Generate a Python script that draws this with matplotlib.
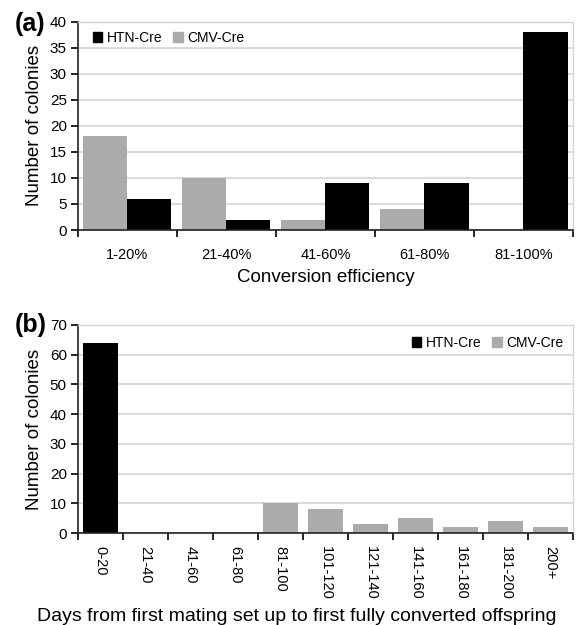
import numpy as np
import matplotlib

matplotlib.use("Agg")
import matplotlib.pyplot as plt
from matplotlib.patches import Patch

plt.rcParams["font.family"] = ["Liberation Sans", "DejaVu Sans"]

# panel (a)
efficiency_bins = ["1-20%", "21-40%", "41-60%", "61-80%", "81-100%"]
htn_a = [6, 2, 9, 9, 38]
cmv_a = [18, 10, 2, 4, 0]

# panel (b)
day_bins = ["0-20", "21-40", "41-60", "61-80", "81-100", "101-120",
            "121-140", "141-160", "161-180", "181-200", "200+"]
htn_b = [64, 0, 0, 0, 0, 0, 0, 0, 0, 0, 0]
cmv_b = [0, 0, 0, 0, 10, 8, 3, 5, 2, 4, 2]

BLACK = "#000000"
GRAY = "#ababab"
GRID = "#d4d4d4"


def style_axes(ax, n, ymax, ystep, xpad):
    ax.set_xlim(-0.5, n - 0.5)
    ax.set_ylim(0, ymax)
    ax.set_yticks(np.arange(0, ymax + 1, ystep))
    ax.yaxis.grid(True, color=GRID, lw=1.2)
    ax.set_axisbelow(True)
    for side in ("top", "right"):
        ax.spines[side].set_color(GRID)
        ax.spines[side].set_linewidth(1.0)
    ax.spines["left"].set_color("#222222")
    ax.spines["bottom"].set_color("#222222")
    ax.spines["left"].set_linewidth(1.2)
    ax.spines["bottom"].set_linewidth(1.2)
    # category boundaries as ticks, labels in between
    ax.set_xticks(np.arange(-0.5, n, 1.0))
    ax.set_xticklabels([])
    ax.set_xticks(np.arange(n), minor=True)
    ax.tick_params(axis="x", which="major", length=5, width=1.2, direction="out")
    ax.tick_params(axis="x", which="minor", length=0, labelsize=10.5, pad=xpad)
    ax.tick_params(axis="y", length=5, width=1.2, labelsize=11, pad=3)
    ax.set_ylabel("Number of colonies", fontsize=13.5, labelpad=5)


def add_legend(ax, loc, anchor):
    handles = [Patch(color=BLACK), Patch(color=GRAY)]
    ax.legend(handles, ["HTN-Cre", "CMV-Cre"], loc=loc, ncol=2,
              frameon=False, fontsize=10, handlelength=0.7, handleheight=0.7,
              handletextpad=0.3, columnspacing=0.8, borderaxespad=0.3,
              bbox_to_anchor=anchor)


fig = plt.figure(figsize=(5.77, 6.25), dpi=100)

ax1 = fig.add_axes([0.135, 0.632, 0.858, 0.333])
x = np.arange(len(efficiency_bins))
w = 0.445
ax1.bar(x - w / 2, cmv_a, w, color=GRAY, label="CMV-Cre")
ax1.bar(x + w / 2, htn_a, w, color=BLACK, label="HTN-Cre")
style_axes(ax1, len(efficiency_bins), 40, 5, 13)
ax1.set_xticklabels(efficiency_bins, minor=True)
ax1.set_xlabel("Conversion efficiency", fontsize=13.5, labelpad=5)
add_legend(ax1, "center left", (0.01, 0.923))
fig.text(0.025, 0.962, "(a)", fontsize=18, fontweight="bold", va="center")

ax2 = fig.add_axes([0.135, 0.147, 0.858, 0.333])
x = np.arange(len(day_bins))
w = 0.78
ax2.bar(x, htn_b, w, color=BLACK, label="HTN-Cre")
ax2.bar(x, cmv_b, w, color=GRAY, label="CMV-Cre")
style_axes(ax2, len(day_bins), 70, 10, 9)
ax2.set_xticklabels(day_bins, minor=True, rotation=270)
add_legend(ax2, "center right", (1.0, 0.913))
fig.text(0.515, 0.014, "Days from first mating set up to first fully converted offspring",
         fontsize=14, ha="center", va="center")
fig.text(0.025, 0.48, "(b)", fontsize=18, fontweight="bold", va="center")

fig.savefig("out.png", dpi=100)
